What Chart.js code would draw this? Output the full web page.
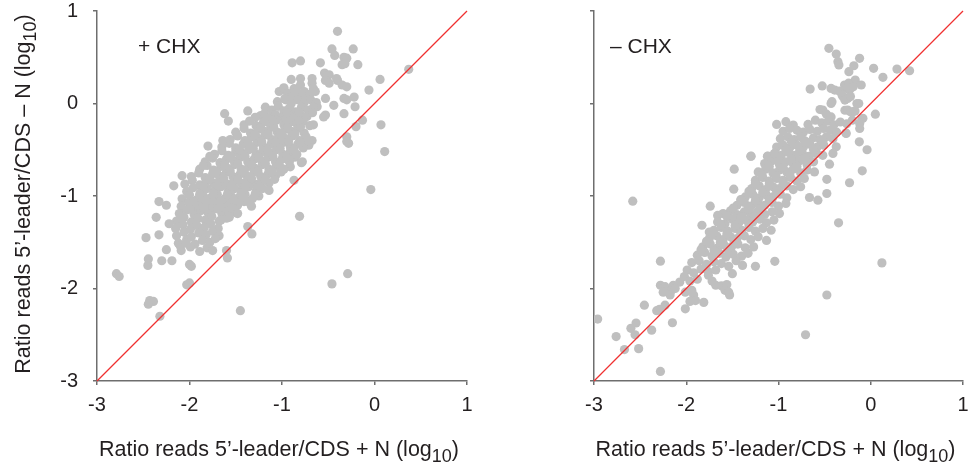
<!DOCTYPE html>
<html><head><meta charset="utf-8">
<script src="https://cdn.jsdelivr.net/npm/chart.js@4.4.1/dist/chart.umd.min.js"></script>
<style>
html,body{margin:0;padding:0;background:#fff;width:971px;height:468px;overflow:hidden}
.wrap{position:absolute;top:0;height:468px}
</style></head><body>
<div class="wrap" style="left:0;width:485px"><canvas id="c1" width="485" height="468"></canvas></div>
<div class="wrap" style="left:497px;width:474px"><canvas id="c2" width="474" height="468"></canvas></div>
<script>
const axisTicks=[-3,-2,-1,0,1];
const tickLabels=['-3','-2','-1','0','1'];
const diagonal=[[-3,-3],[1,1]];
const xTitle=['Ratio reads 5\u2019-leader/CDS + N (log','10',')'];
const yTitle=['Ratio reads 5\u2019-leader/CDS \u2013 N (log','10',')'];
const panelLabels=['+ CHX','\u2013 CHX'];

const plusCHX=[
[-0.40,0.78],[-0.46,0.59],[-0.43,0.52],[-0.23,0.59],[-0.89,0.44],[-0.80,0.46],[-0.585,0.44],[-0.33,0.50],[-0.30,0.49],[-0.35,0.42],[-0.32,0.43],[-0.18,0.42],[-0.54,0.33],[-0.49,0.31],[-0.40,0.25],[-0.35,0.20],[-0.30,0.18],[-0.90,0.26],[-0.80,0.27],[-0.675,0.27],[-0.675,0.22],[-0.66,0.16],[-0.53,0.25],[-0.49,0.22],[-0.41,0.27],[-0.98,0.16],[-0.96,0.04],[-0.87,0.16],[-0.80,0.20],[-0.76,0.13],[-0.73,0.07],[-0.53,0.055],[-0.44,-0.02],[-0.33,0.055],[-0.30,0.04],[-0.22,0.07],[-0.21,-0.035],[-0.06,0.145],[0.06,0.26],[0.37,0.37],[-0.62,-0.035],[-0.53,-0.125],[-0.55,-0.145],[-0.33,-0.11],[-0.13,-0.18],[-0.20,-0.25],[0.07,-0.23],[-0.30,-0.36],[-0.28,-0.43],[-0.30,-0.41],[0.11,-0.52],[-0.66,-0.23],[-0.675,-0.40],[-0.71,-0.45],[-0.73,-0.41],[-0.78,-0.63],[-0.86,-0.58],[-0.91,-0.685],[-0.87,-0.83],[-0.04,-0.93],[-1.03,0.13],[-0.98,0.17],[-1.37,-0.08],[-1.18,-0.04],[-1.23,-0.13],[-1.62,-0.11],[-1.58,-0.19],
[-0.94,0.11],[-0.90,0.07],[-0.84,0.12],[-0.78,0.09],[-0.70,0.10],[-0.64,0.13],
[-1.05,0.02],[-0.97,0.05],[-0.90,0.00],[-0.83,0.04],[-0.76,0.01],[-0.69,0.04],[-0.63,0.01],
[-1.11,-0.07],[-1.04,-0.03],[-0.98,-0.08],[-0.92,-0.05],[-0.86,-0.09],[-0.79,-0.04],[-0.72,-0.07],[-0.66,-0.04],
[-1.29,-0.15],[-1.19,-0.11],[-1.14,-0.16],[-1.07,-0.12],[-1.00,-0.15],[-0.93,-0.11],[-0.87,-0.16],[-0.80,-0.12],[-0.73,-0.14],[-0.67,-0.10],
[-1.41,-0.23],[-1.35,-0.19],[-1.28,-0.24],[-1.20,-0.20],[-1.13,-0.22],[-1.06,-0.18],[-0.98,-0.23],[-0.91,-0.20],[-0.84,-0.22],[-0.77,-0.19],[-0.70,-0.24],
[-1.50,-0.31],[-1.41,-0.27],[-1.34,-0.32],[-1.26,-0.28],[-1.19,-0.30],[-1.12,-0.26],[-1.05,-0.31],[-0.97,-0.28],[-0.90,-0.30],[-0.83,-0.27],[-0.76,-0.32],
[-1.56,-0.39],[-1.48,-0.35],[-1.40,-0.40],[-1.33,-0.36],[-1.25,-0.38],[-1.18,-0.34],[-1.11,-0.39],[-1.03,-0.36],[-0.96,-0.38],[-0.89,-0.35],[-0.81,-0.40],[-0.74,-0.36],
[-1.65,-0.47],[-1.57,-0.43],[-1.50,-0.48],[-1.42,-0.44],[-1.35,-0.46],[-1.27,-0.42],[-1.20,-0.47],[-1.12,-0.44],[-1.05,-0.46],[-0.98,-0.42],[-0.91,-0.47],[-0.83,-0.44],[-0.77,-0.48],
[-1.73,-0.55],[-1.65,-0.51],[-1.58,-0.56],[-1.50,-0.52],[-1.43,-0.54],[-1.36,-0.50],[-1.28,-0.55],[-1.21,-0.52],[-1.13,-0.54],[-1.06,-0.50],[-0.99,-0.55],[-0.91,-0.52],[-0.84,-0.55],
[-1.83,-0.63],[-1.75,-0.59],[-1.67,-0.64],[-1.60,-0.60],[-1.52,-0.62],[-1.45,-0.58],[-1.37,-0.63],[-1.30,-0.60],[-1.22,-0.62],[-1.15,-0.58],[-1.07,-0.63],[-1.00,-0.60],[-0.92,-0.63],
[-1.89,-0.71],[-1.81,-0.67],[-1.74,-0.72],[-1.66,-0.68],[-1.59,-0.70],[-1.51,-0.66],[-1.44,-0.71],[-1.36,-0.68],[-1.29,-0.70],[-1.21,-0.66],[-1.14,-0.71],[-1.06,-0.68],[-0.98,-0.71],
[-1.98,-0.79],[-1.90,-0.75],[-1.83,-0.80],[-1.75,-0.76],[-1.68,-0.78],[-1.60,-0.74],[-1.53,-0.79],[-1.45,-0.76],[-1.38,-0.78],[-1.30,-0.74],[-1.23,-0.79],[-1.15,-0.76],[-1.07,-0.78],[-1.01,-0.74],
[-2.05,-0.87],[-1.97,-0.83],[-1.89,-0.88],[-1.82,-0.84],[-1.74,-0.86],[-1.67,-0.82],[-1.59,-0.87],[-1.52,-0.84],[-1.44,-0.86],[-1.37,-0.82],[-1.29,-0.87],[-1.22,-0.84],[-1.14,-0.86],[-1.08,-0.82],
[-2.03,-0.95],[-1.96,-0.91],[-1.88,-0.96],[-1.81,-0.92],[-1.73,-0.94],[-1.66,-0.90],[-1.58,-0.95],[-1.51,-0.92],[-1.43,-0.94],[-1.36,-0.90],[-1.28,-0.95],[-1.21,-0.92],[-1.14,-0.94],
[-2.08,-1.03],[-2.00,-0.99],[-1.92,-1.04],[-1.85,-1.00],[-1.77,-1.02],[-1.70,-0.98],[-1.62,-1.03],[-1.55,-1.00],[-1.47,-1.02],[-1.40,-0.98],[-1.32,-1.03],[-1.25,-1.00],
[-2.09,-1.11],[-2.01,-1.07],[-1.93,-1.12],[-1.86,-1.08],[-1.78,-1.10],[-1.71,-1.06],[-1.63,-1.11],[-1.56,-1.08],[-1.48,-1.10],[-1.41,-1.06],[-1.33,-1.11],
[-2.11,-1.19],[-2.03,-1.15],[-1.95,-1.20],[-1.88,-1.16],[-1.80,-1.18],[-1.73,-1.14],[-1.65,-1.19],[-1.58,-1.16],[-1.50,-1.18],
[-2.14,-1.27],[-2.06,-1.23],[-1.98,-1.28],[-1.91,-1.24],[-1.83,-1.26],[-1.76,-1.22],[-1.68,-1.27],[-1.60,-1.24],
[-2.15,-1.35],[-2.07,-1.31],[-1.99,-1.36],[-1.92,-1.32],[-1.84,-1.34],[-1.77,-1.30],[-1.69,-1.35],
[-2.14,-1.43],[-2.06,-1.39],[-1.98,-1.44],[-1.90,-1.40],[-1.82,-1.42],[-1.75,-1.38],[-1.68,-1.43],
[-2.12,-1.51],[-2.03,-1.47],[-1.94,-1.52],[-1.86,-1.48],[-1.78,-1.50],[-1.72,-1.46],
[-2.09,-1.59],[-1.99,-1.55],[-1.89,-1.60],[-1.81,-1.56],[-1.75,-1.59],
[-1.46,-0.50],[-1.31,-0.49],[-1.16,-0.50],[-1.02,-0.49],[-0.87,-0.50],
[-1.55,-0.58],[-1.40,-0.57],[-1.25,-0.58],[-1.10,-0.57],[-0.95,-0.58],
[-1.62,-0.66],[-1.48,-0.65],[-1.33,-0.66],[-1.18,-0.65],[-1.03,-0.66],
[-1.71,-0.74],[-1.56,-0.73],[-1.41,-0.74],[-1.26,-0.73],[-1.11,-0.74],
[-1.78,-0.82],[-1.63,-0.81],[-1.48,-0.82],[-1.33,-0.81],[-1.18,-0.82],
[-1.85,-0.90],[-1.70,-0.89],[-1.55,-0.90],[-1.40,-0.89],[-1.25,-0.90],
[-1.89,-0.98],[-1.74,-0.97],[-1.59,-0.98],[-1.44,-0.97],[-1.29,-0.98],
[-1.96,-1.06],[-1.82,-1.05],[-1.67,-1.06],[-1.52,-1.05],[-1.37,-1.06],
[-1.99,-1.14],[-1.84,-1.13],[-1.69,-1.14],[-1.54,-1.13],
[-1.37,-0.42],[-1.22,-0.41],[-1.07,-0.42],[-0.93,-0.41],[-0.80,-0.42],
[-1.29,-0.34],[-1.15,-0.33],[-1.00,-0.34],[-0.86,-0.33],
[-1.23,-0.26],[-1.09,-0.25],[-0.94,-0.26],[-0.80,-0.25],
[-1.10,-0.18],[-0.96,-0.17],[-0.82,-0.18],
[-0.95,-0.10],[-0.82,-0.09],
[-1.80,-0.46],[-1.64,-0.40],[-1.85,-0.67],[-1.78,-0.57],[-2.08,-0.78],[-2.17,-0.89],[-2.33,-1.06],[-2.25,-1.10],[-2.36,-1.23],[-2.22,-1.30],[-2.47,-1.45],[-2.33,-1.42],[-2.25,-1.58],[-2.445,-1.68],[-2.45,-1.75],[-2.30,-1.70],[-2.19,-1.70],[-2.79,-1.84],[-2.76,-1.87],[-2.00,-1.74],[-1.98,-1.76],[-2.03,-1.96],[-2.00,-1.94],[-2.43,-2.13],[-2.39,-2.14],[-2.445,-2.17],[-2.32,-2.30],[-1.45,-2.24],[-1.59,-1.67],[-1.60,-1.59],[-1.37,-1.33],[-1.325,-1.41],[-0.81,-1.22],[-0.29,-1.84],[-0.46,-1.95],[-0.79,-0.64],[-2.10,-1.54],[-2.04,-1.51],[-1.66,-1.26],[-1.57,-1.23],[-1.48,-1.19]
];

const minusCHX=[
[-0.454,0.596],[-0.374,0.535],[-0.356,0.452],[-0.345,0.416],[-0.121,0.488],[-0.183,0.408],[-0.237,0.344],[0.031,0.38],[0.284,0.372],[0.421,0.354],[0.132,0.283],[-0.168,0.253],[-0.103,0.20],[-0.284,0.20],[-0.266,0.163],[-0.23,0.145],[-0.526,0.19],[-0.43,0.163],[-0.39,0.145],[-0.34,0.134],[-0.657,0.156],[-0.24,0.22],[-0.19,0.18],[-0.31,0.09],[-0.30,0.073],[-0.25,0.055],[-0.28,0.037],[-0.22,0.075],[-0.13,0.0],[-0.15,0.0],[-0.43,0.0],[-0.42,0.02],[-0.55,-0.065],[-0.52,-0.07],[-0.48,-0.115],[-0.43,-0.145],[-0.28,-0.073],[-0.25,-0.07],[-0.22,-0.09],[-0.19,-0.09],[-0.17,-0.08],[0.05,-0.115],[-0.085,-0.16],[-0.096,-0.163],[-0.12,-0.215],[-0.12,-0.27],[-0.266,-0.324],[-0.124,-0.414],[-0.04,-0.50],[-0.374,-0.468],[-0.41,-0.54],[-0.447,-0.656],[-0.092,-0.728],[-0.23,-0.857],[-0.476,-0.973],[-0.573,-1.045],[-0.664,-1.016],[-0.476,-0.82],[-0.349,-1.29],
[-1.02,-0.226],[-0.92,-0.197],[-0.84,-0.233],[-0.68,-0.226],[-0.60,-0.18],[-0.53,-0.21],[-0.46,-0.19],[-0.40,-0.23],[-0.33,-0.20],[-0.26,-0.22],[-0.20,-0.18],
[-0.95,-0.30],[-0.88,-0.27],[-0.80,-0.29],[-0.73,-0.31],[-0.66,-0.28],[-0.58,-0.30],[-0.51,-0.27],[-0.44,-0.29],[-0.37,-0.31],[-0.27,-0.32],
[-0.98,-0.38],[-0.90,-0.36],[-0.83,-0.39],[-0.76,-0.36],[-0.72,-0.40],[-0.62,-0.37],[-0.55,-0.39],[-0.48,-0.36],[-0.41,-0.38],
[-1.02,-0.47],[-0.95,-0.45],[-0.88,-0.48],[-0.80,-0.45],[-0.73,-0.47],[-0.66,-0.44],[-0.58,-0.47],[-0.51,-0.45],
[-1.30,-0.57],[-1.12,-0.57],[-1.04,-0.54],[-0.97,-0.56],[-0.89,-0.53],[-0.82,-0.56],[-0.74,-0.54],[-0.67,-0.57],[-0.59,-0.54],[-0.52,-0.56],
[-1.15,-0.65],[-1.07,-0.62],[-0.99,-0.66],[-0.92,-0.63],[-0.84,-0.65],[-0.77,-0.62],[-0.69,-0.66],[-0.62,-0.63],
[-1.48,-0.71],[-1.22,-0.74],[-1.14,-0.71],[-1.06,-0.75],[-0.99,-0.72],[-0.91,-0.74],[-0.84,-0.71],[-0.76,-0.75],[-0.69,-0.72],[-0.61,-0.74],
[-1.25,-0.83],[-1.17,-0.80],[-1.10,-0.84],[-1.02,-0.81],[-0.95,-0.83],[-0.87,-0.80],[-0.80,-0.84],[-0.72,-0.81],
[-1.29,-0.92],[-1.21,-0.89],[-1.14,-0.93],[-1.06,-0.90],[-0.99,-0.92],[-0.91,-0.89],[-0.84,-0.93],[-0.76,-0.90],[-1.485,-0.926],
[-1.36,-1.01],[-1.28,-0.98],[-1.21,-1.02],[-1.13,-0.99],[-1.06,-1.01],[-0.98,-0.98],[-0.91,-1.02],
[-1.45,-1.10],[-1.37,-1.07],[-1.30,-1.11],[-1.22,-1.08],[-1.15,-1.10],[-1.07,-1.07],[-1.00,-1.11],[-0.92,-1.08],[-1.74,-1.11],
[-1.60,-1.19],[-1.52,-1.16],[-1.45,-1.20],[-1.37,-1.17],[-1.30,-1.19],[-1.22,-1.16],[-1.15,-1.20],[-1.07,-1.17],[-0.99,-1.19],[-1.66,-1.21],
[-1.66,-1.28],[-1.58,-1.30],[-1.50,-1.25],[-1.43,-1.29],[-1.35,-1.26],[-1.28,-1.28],[-1.20,-1.25],[-1.13,-1.29],[-1.05,-1.26],[-1.83,-1.316],
[-1.70,-1.37],[-1.62,-1.34],[-1.55,-1.38],[-1.47,-1.35],[-1.40,-1.37],[-1.32,-1.34],[-1.25,-1.38],[-1.17,-1.35],[-1.08,-1.37],[-1.75,-1.39],
[-1.75,-1.46],[-1.67,-1.43],[-1.60,-1.47],[-1.52,-1.44],[-1.45,-1.46],[-1.37,-1.43],[-1.30,-1.47],[-1.22,-1.44],[-1.13,-1.48],
[-1.82,-1.55],[-1.74,-1.52],[-1.66,-1.56],[-1.59,-1.53],[-1.51,-1.55],[-1.44,-1.52],[-1.36,-1.56],[-1.27,-1.55],
[-1.88,-1.64],[-1.80,-1.61],[-1.72,-1.65],[-1.64,-1.62],[-1.57,-1.66],[-1.49,-1.63],[-1.40,-1.65],[-1.33,-1.62],
[-1.94,-1.72],[-1.86,-1.70],[-1.78,-1.74],[-1.70,-1.71],[-1.62,-1.73],[-1.54,-1.76],[-1.46,-1.70],[-1.39,-1.75],[-1.25,-1.76],[-1.04,-1.706],[-2.28,-1.705],
[-1.99,-1.80],[-1.92,-1.83],[-1.84,-1.79],[-1.76,-1.82],[-1.68,-1.80],[-1.50,-1.84],
[-2.02,-1.87],[-1.96,-1.92],[-1.76,-1.857],[-1.72,-1.92],[-1.88,-1.90],
[-2.28,-1.965],[-2.23,-1.98],[-2.16,-2.02],[-2.07,-1.93],[-2.14,-1.965],[-2.01,-2.04],[-1.94,-2.02],[-1.68,-1.965],[-1.62,-1.97],[-1.56,-1.958],[-1.58,-2.02],
[-2.25,-2.04],[-2.175,-2.07],[-2.12,-2.0],[-1.92,-2.07],[-1.90,-2.13],[-1.96,-2.14],[-1.54,-2.04],[-1.53,-2.07],[-1.81,-2.15],[-2.01,-2.22],
[-2.23,-2.18],[-2.454,-2.18],[-2.32,-2.24],[-2.29,-2.225],[-2.15,-2.37],[-2.375,-2.45],[-2.544,-2.373],[-2.60,-2.43],[-2.555,-2.50],[-2.76,-2.52],[-2.67,-2.66],[-2.516,-2.65],[-2.28,-2.896],[-2.96,-2.33],
[-0.86,-0.41],[-0.69,-0.42],[-0.52,-0.41],
[-0.92,-0.50],[-0.77,-0.51],[-0.62,-0.50],
[-1.00,-0.59],[-0.86,-0.60],[-0.71,-0.59],
[-1.10,-0.68],[-0.95,-0.69],[-0.80,-0.68],
[-1.18,-0.77],[-1.03,-0.78],[-0.88,-0.77],
[-1.25,-0.86],[-1.10,-0.87],[-0.95,-0.86],
[-1.32,-0.95],[-1.17,-0.96],[-1.02,-0.95],
[-1.41,-1.04],[-1.25,-1.05],[-1.10,-1.04],
[-1.49,-1.13],[-1.33,-1.14],[-1.18,-1.13],
[-1.56,-1.22],[-1.41,-1.23],[-1.26,-1.22],
[-1.62,-1.31],[-1.47,-1.32],[-1.32,-1.31],
[-1.71,-1.40],[-1.56,-1.41],[-1.41,-1.40],
[-1.78,-1.49],[-1.63,-1.50],[-1.48,-1.49],
[-1.84,-1.58],[-1.70,-1.59],[-1.55,-1.58],
[-2.58,-1.056],[0.121,-1.723],[-0.476,-2.07],[-0.707,-2.50],
[-1.297,-0.569],[-1.116,-0.569],[-1.043,-0.54]
];

const FONT='"Liberation Sans", Arial, Helvetica, sans-serif';
const TXT='#231f20';
const AXC='#6e6e6e';

const titlePlugin={id:'titles',afterDraw(chart,args,opts){
  const ctx=chart.ctx,a=chart.chartArea;
  ctx.save();
  ctx.fillStyle=TXT;ctx.textAlign='left';ctx.textBaseline='alphabetic';
  const mainF='21.5px '+FONT,subF='18px '+FONT;
  function drawTitle(parts,cx,cy){
    ctx.font=mainF;const w0=ctx.measureText(parts[0]).width,w2=ctx.measureText(parts[2]).width;
    ctx.font=subF;const w1=ctx.measureText(parts[1]).width;
    let x=cx-(w0+w1+w2)/2;
    ctx.font=mainF;ctx.fillText(parts[0],x,cy);x+=w0;
    ctx.font=subF;ctx.fillText(parts[1],x,cy+6);x+=w1;
    ctx.font=mainF;ctx.fillText(parts[2],x,cy);
  }
  drawTitle(xTitle,(a.left+a.right)/2-3,456);
  ctx.font='21px '+FONT;
  ctx.fillText(opts.label,a.left+opts.labelDx,53);
  if(opts.yTitle){ctx.translate(30,194);ctx.rotate(-Math.PI/2);drawTitle(yTitle,0,0);}
  ctx.restore();
}};

function axisOpts(isX,showLabels){
  return {
    type:'linear',min:-3,max:1,
    afterBuildTicks:s=>{s.ticks=axisTicks.map(v=>({value:v}));},
    ticks:{display:true,callback:v=>showLabels?tickLabels[axisTicks.indexOf(v)]:'',font:{family:FONT,size:20},color:TXT,padding:isX?8:15,maxRotation:0,autoSkip:false},
    grid:{drawOnChartArea:false,drawTicks:true,tickLength:4,color:AXC,lineWidth:1.5},
    border:{display:true,color:AXC,width:1.5},
    afterFit:s=>{
      if(isX){s.height=87;s.paddingLeft=0;s.paddingRight=0;}
      else{s.width=97;s.paddingTop=0;s.paddingBottom=0;}
    }
  };
}

function makeChart(id,pts,idx,padRight){
  return new Chart(document.getElementById(id),{
    type:'scatter',
    data:{datasets:[
      {type:'line',data:diagonal.map(p=>({x:p[0],y:p[1]})),borderColor:'#f03030',borderWidth:1.2,pointRadius:0,fill:false,order:0,clip:false},
      {type:'scatter',data:pts.map(p=>({x:p[0],y:p[1]})),backgroundColor:'#bfbfbf',borderWidth:0,pointRadius:4.6,order:1}
    ]},
    options:{
      responsive:false,animation:false,devicePixelRatio:1,
      layout:{padding:{top:11,right:padRight,left:0,bottom:0}},
      plugins:{legend:{display:false},tooltip:{enabled:false},
        titles:{label:panelLabels[idx],labelDx:idx===0?41:16,yTitle:idx===0}},
      scales:{x:axisOpts(true,true),y:axisOpts(false,idx===0)}
    },
    plugins:[titlePlugin]
  });
}
makeChart('c1',plusCHX,0,18);
makeChart('c2',minusCHX,1,8);
</script>
</body></html>
